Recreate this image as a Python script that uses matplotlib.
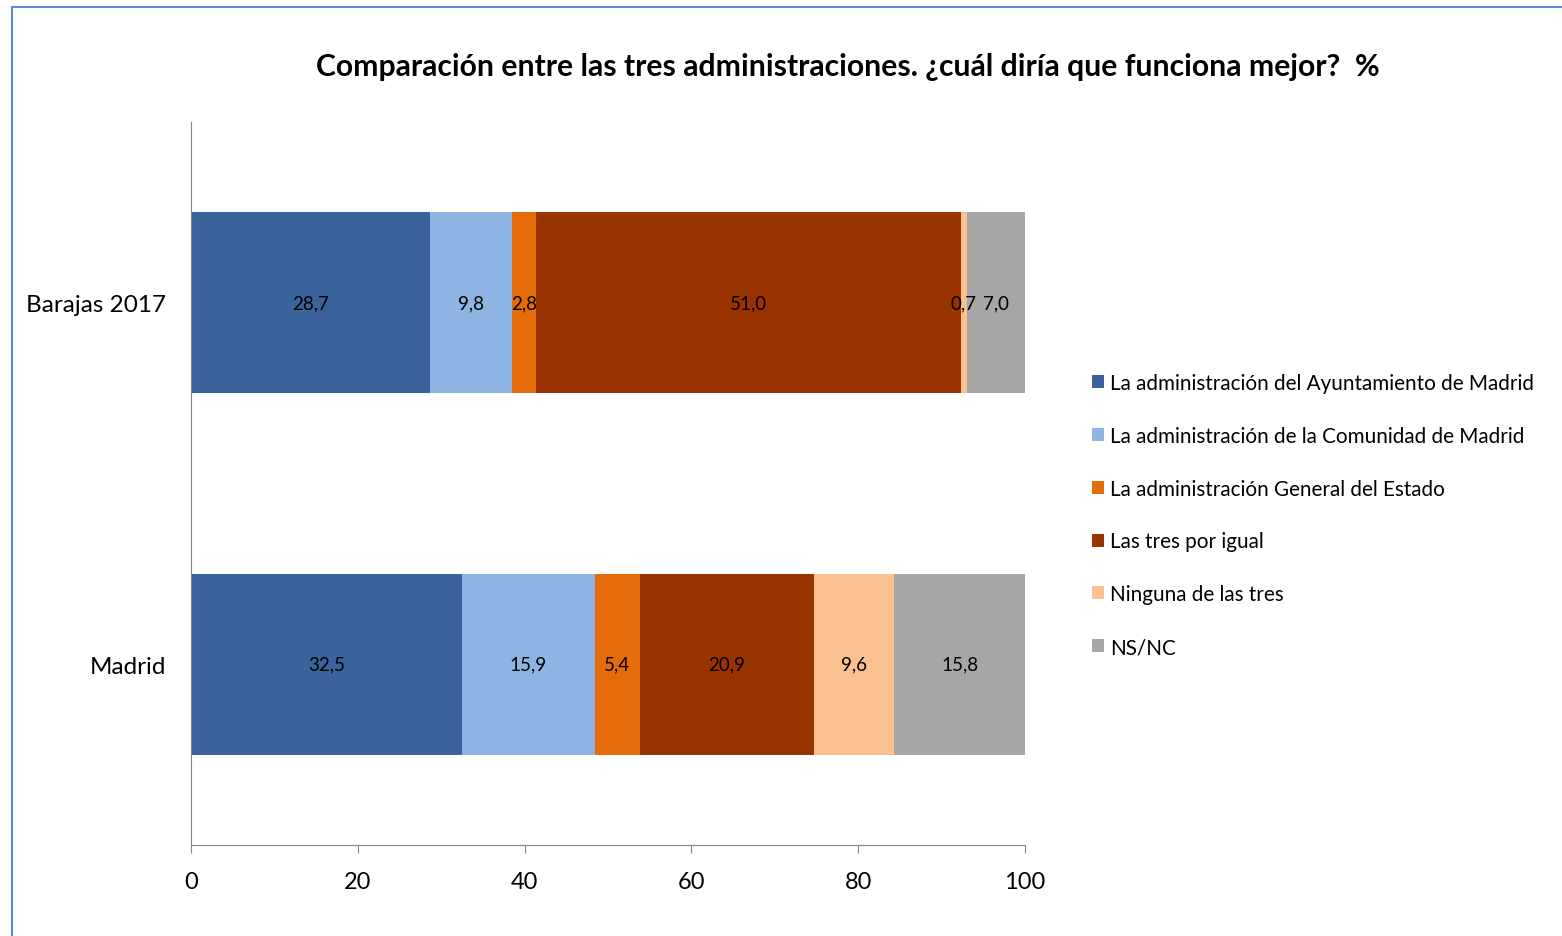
import matplotlib
matplotlib.use("Agg")
import matplotlib.pyplot as plt
from matplotlib.patches import Rectangle
import numpy as np

plt.rcParams['font.family'] = ['Lato', 'DejaVu Sans']

categories = ["Barajas 2017", "Madrid"]
series_names = [
    "La administración del Ayuntamiento de Madrid",
    "La administración de la Comunidad de Madrid",
    "La administración General del Estado",
    "Las tres por igual",
    "Ninguna de las tres",
    "NS/NC",
]
values = {
    "La administración del Ayuntamiento de Madrid": [28.7, 32.5],
    "La administración de la Comunidad de Madrid": [9.8, 15.9],
    "La administración General del Estado": [2.8, 5.4],
    "Las tres por igual": [51.0, 20.9],
    "Ninguna de las tres": [0.7, 9.6],
    "NS/NC": [7.0, 15.8],
}
colors = ["#3A639C", "#8EB4E3", "#E46C0A", "#993300", "#FAC090", "#A6A6A6"]
xticks = [0, 20, 40, 60, 80, 100]

fig = plt.figure(figsize=(15.62, 9.37), dpi=100)
ax = fig.add_axes([0.1223, 0.0971, 0.534, 0.7716])

ypos = np.arange(len(categories))
left = np.zeros(len(categories))
handles = []
for name, col in zip(series_names, colors):
    v = np.array(values[name])
    b = ax.barh(ypos, v, left=left, height=0.5, color=col, label=name)
    handles.append(b)
    for y, l, w in zip(ypos, left, v):
        ax.text(l + w / 2, y, f"{w:.1f}".replace(".", ","), ha="center",
                va="center", fontsize=13.5, color="black")
    left += v

ax.set_ylim(len(categories) - 0.5, -0.5)
ax.set_xlim(0, 100)
ax.set_xticks(xticks)
ax.set_xticklabels([str(t) for t in xticks], fontsize=17)
ax.set_yticks(ypos)
ax.set_yticklabels(categories, fontsize=17.5)
ax.tick_params(axis="y", length=0, pad=18)
ax.tick_params(axis="x", length=6, color="#868686", pad=13)
for s in ["top", "right"]:
    ax.spines[s].set_visible(False)
for s in ["left", "bottom"]:
    ax.spines[s].set_color("#868686")

fig.text(0.5426, 0.928, "Comparación entre las tres administraciones. ¿cuál diría que funciona mejor?  %",
         ha="center", va="center", fontsize=21.7, fontweight="bold")

leg = fig.legend(handles=handles, labels=series_names, loc="center left",
                 bbox_to_anchor=(0.6869, 0.4493), frameon=False, fontsize=14.9,
                 handlelength=0.6, handleheight=0.6, handletextpad=0.3,
                 labelspacing=1.585)

fig.patches.append(Rectangle((12 / 1562, -0.1), 1.2, 1 - 8 / 937 + 0.1,
                             transform=fig.transFigure, fill=False,
                             edgecolor="#5B8BD0", linewidth=1.5))

fig.savefig("out.png", dpi=100)
